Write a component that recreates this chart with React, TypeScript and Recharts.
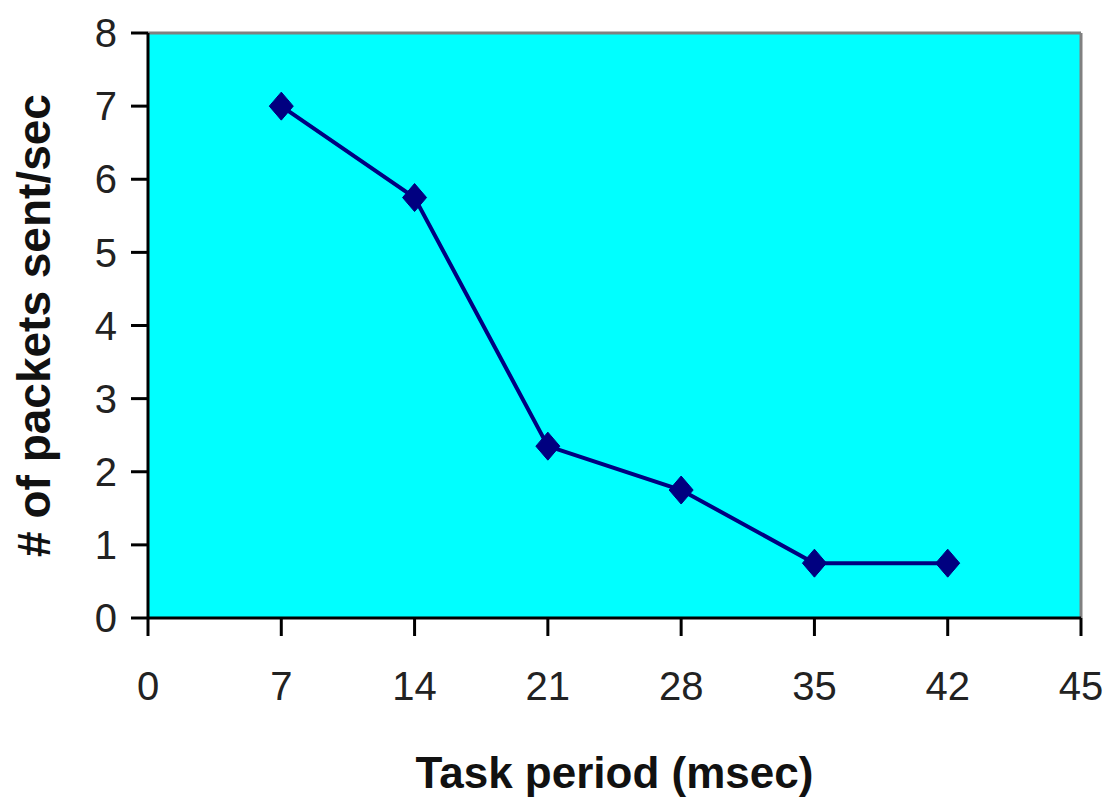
import { LineChart, Line, XAxis, YAxis, CartesianGrid, ReferenceLine } from 'recharts';

const periods = ['0', '7', '14', '21', '28', '35', '42', '45'];
const packetsPerSec = [null, 7, 5.75, 2.35, 1.75, 0.75, 0.75, null];
const yTicks = [0, 1, 2, 3, 4, 5, 6, 7, 8];

const data = periods.map((p, i) => ({ period: p, packets: packetsPerSec[i] }));

const FONT = '"Liberation Sans", Arial, sans-serif';
const NAVY = '#000080';

function Diamond(props: any) {
    const { cx, cy, payload } = props;
    if (cx == null || cy == null || payload.packets == null) return null;
    return (
        <polygon
            points={`${cx},${cy - 14} ${cx + 12},${cy} ${cx},${cy + 14} ${cx - 12},${cy}`}
            fill={NAVY}
            stroke={NAVY}
        />
    );
}

function YTitle(props: any) {
    const { viewBox } = props;
    const x = viewBox.x + 50;
    const y = viewBox.y + viewBox.height / 2;
    return (
        <text
            x={x}
            y={y}
            transform={`rotate(-90 ${x} ${y})`}
            textAnchor="middle"
            fontFamily={FONT}
            fontWeight="bold"
            fontSize={46}
            fill="#111"
        >
            # of packets sent/sec
        </text>
    );
}

function XTitle(props: any) {
    const { viewBox } = props;
    return (
        <text
            x={viewBox.x + viewBox.width / 2}
            y={viewBox.y + 170}
            textAnchor="middle"
            fontFamily={FONT}
            fontWeight="bold"
            fontSize={44}
            fill="#111"
        >
            Task period (msec)
        </text>
    );
}

export default function App() {
    return (
        <div style={{ position: 'absolute', left: 0, top: 0, background: '#fff' }}>
            <LineChart
                width={1106}
                height={797}
                data={data}
                margin={{ top: 33, right: 25, left: 0, bottom: 0 }}
            >
                <CartesianGrid horizontal={false} vertical={false} fill="#00FFFF" />
                <ReferenceLine y={8} stroke="#808080" strokeWidth={3} />
                <ReferenceLine x="45" stroke="#808080" strokeWidth={3} />
                <XAxis
                    dataKey="period"
                    type="category"
                    height={179}
                    interval={0}
                    tickSize={18}
                    tickMargin={36}
                    axisLine={{ stroke: '#000', strokeWidth: 3 }}
                    tickLine={{ stroke: '#000', strokeWidth: 3 }}
                    tick={{ fill: '#222', fontSize: 40, fontFamily: FONT }}
                    label={{ content: XTitle }}
                />
                <YAxis
                    domain={[0, 8]}
                    ticks={yTicks}
                    width={148}
                    tickSize={17}
                    tickMargin={14}
                    axisLine={{ stroke: '#000', strokeWidth: 3 }}
                    tickLine={{ stroke: '#000', strokeWidth: 3 }}
                    tick={{ fill: '#222', fontSize: 40, fontFamily: FONT }}
                    label={{ content: YTitle }}
                />
                <Line
                    dataKey="packets"
                    stroke={NAVY}
                    strokeWidth={4}
                    dot={<Diamond />}
                    activeDot={false}
                    isAnimationActive={false}
                />
            </LineChart>
        </div>
    );
}
